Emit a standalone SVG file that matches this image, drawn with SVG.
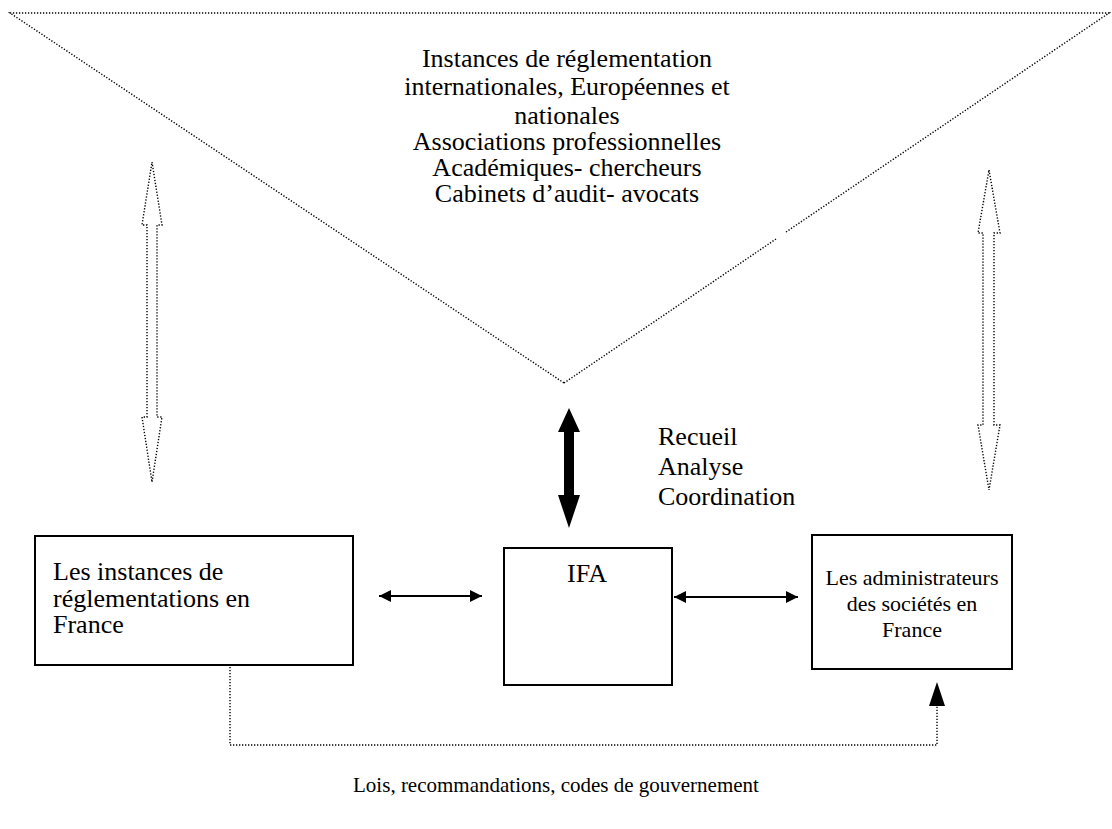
<svg xmlns="http://www.w3.org/2000/svg" width="1112" height="829" viewBox="0 0 1112 829">
<style>
text{font-family:"Liberation Serif","Times New Roman",serif;font-size:26px;fill:#000}
.sm{font-size:22px}
.xs{font-size:21px}
.dot{fill:none;stroke:#000;stroke-width:1.4;stroke-dasharray:1.3 1.7}
.box{fill:#fff;stroke:#000;stroke-width:2}
.ln{stroke:#000;stroke-width:2;fill:none}
</style>
<defs>
<marker id="ah" viewBox="0 0 10 10" refX="10" refY="5" markerWidth="7" markerHeight="6" markerUnits="strokeWidth" orient="auto-start-reverse">
<path d="M0,0 L10,5 L0,10 z" fill="#000"/>
</marker>
</defs>
<g id="top-triangle">
<path class="dot" d="M564,383 L776,239 M786,232 L1109,13 L10,13 L564,383"/>
<text text-anchor="middle" x="567" y="67">Instances de réglementation</text>
<text text-anchor="middle" x="567" y="95">internationales, Européennes et</text>
<text text-anchor="middle" x="567" y="124">nationales</text>
<text text-anchor="middle" x="567" y="150">Associations professionnelles</text>
<text text-anchor="middle" x="567" y="176">Académiques- chercheurs</text>
<text text-anchor="middle" x="567" y="202">Cabinets  d’audit- avocats</text>
</g>
<g id="left-box">
<rect class="box" x="35" y="536" width="318" height="129"/>
<text x="53" y="580">Les instances de</text>
<text x="53" y="607">réglementations en</text>
<text x="53" y="633">France</text>
</g>
<g id="ifa">
<rect class="box" x="504" y="548" width="168" height="137"/>
<text text-anchor="middle" x="587" y="582">IFA</text>
</g>
<g id="right-box">
<rect class="box" x="812" y="535" width="200" height="134"/>
<text class="sm" text-anchor="middle" x="912" y="585">Les administrateurs</text>
<text class="sm" text-anchor="middle" x="912" y="611">des sociétés en</text>
<text class="sm" text-anchor="middle" x="912" y="637">France</text>
</g>
<g id="connectors">
<polygon class="dot" points="152,162 162,225 157,225 157,417 162,417 152,482 142,417 147,417 147,225 142,225"/>
<polygon class="dot" points="989,170 1000,233 994,233 994,425 1000,425 989,490 978,425 983,425 983,233 978,233"/>
<polygon fill="#000" points="569,408 580,432 574,432 574,495 580,495 569,528 558,495 564,495 564,432 558,432"/>
<line class="ln" x1="379" y1="596" x2="482" y2="596" marker-start="url(#ah)" marker-end="url(#ah)"/>
<line class="ln" x1="674" y1="597" x2="798" y2="597" marker-start="url(#ah)" marker-end="url(#ah)"/>
<polyline class="dot" points="230,667 230,745 937,745 937,704"/>
<polygon fill="#000" points="937,682 945,706 929,706"/>
</g>
<g id="labels">
<text x="658" y="445">Recueil</text>
<text x="658" y="475">Analyse</text>
<text x="658" y="505">Coordination</text>
<text class="xs" text-anchor="middle" x="556" y="792">Lois, recommandations, codes de gouvernement</text>
</g>
</svg>
